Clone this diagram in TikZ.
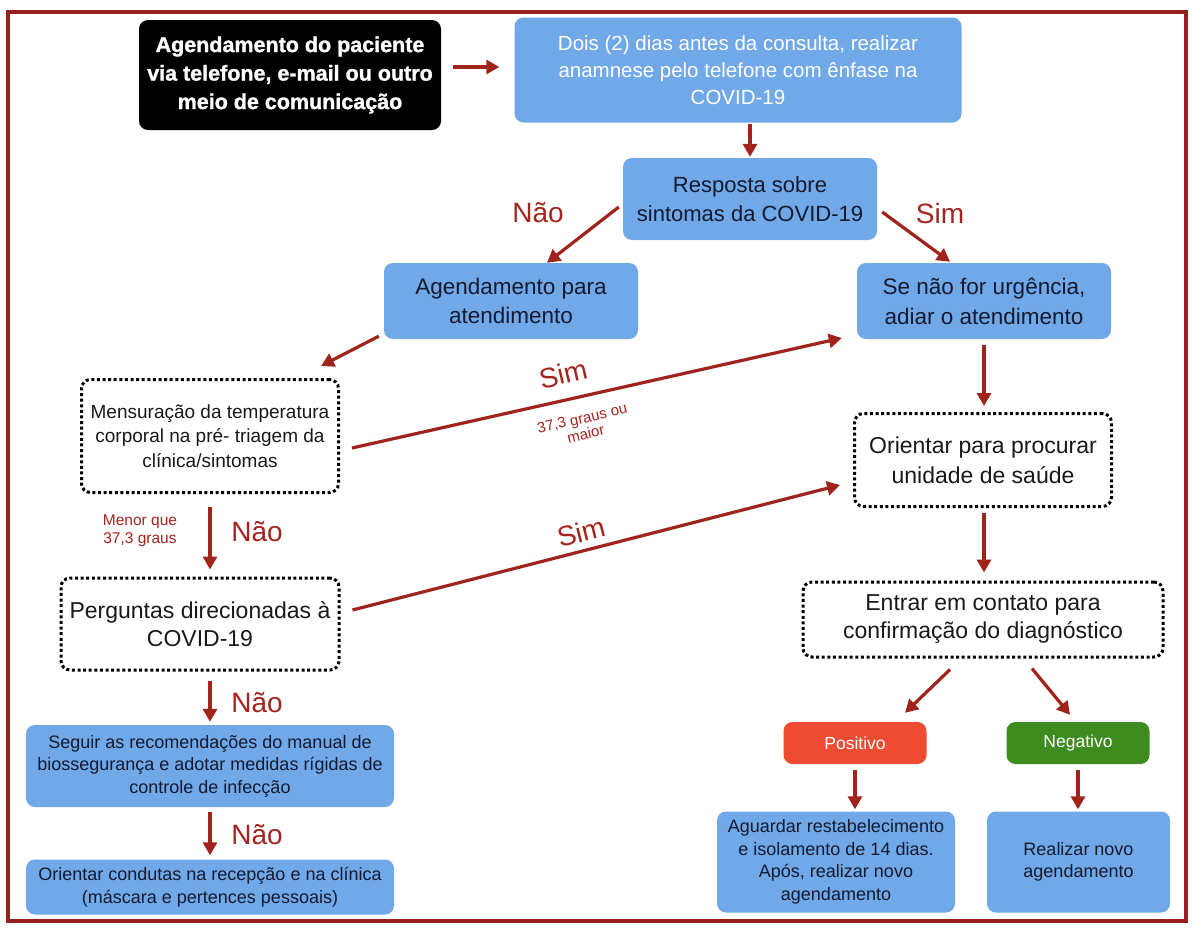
\documentclass[tikz,border=0pt]{standalone}
\usepackage{fontspec}
\setmainfont{Liberation Sans}
\newfontfamily\heavyfont{Liberation Sans}[BoldFeatures={FakeBold=1.3}]
\usetikzlibrary{arrows.meta,calc}
\definecolor{boxblue}{RGB}{112,168,232}
\definecolor{navy}{RGB}{20,26,48}
\definecolor{arrowred}{RGB}{160,36,28}
\definecolor{labelred}{RGB}{165,36,30}
\definecolor{borderred}{RGB}{150,32,30}
\definecolor{posred}{RGB}{238,76,50}
\definecolor{neggreen}{RGB}{62,140,32}
\tikzset{
  box/.style={rounded corners=9pt, inner sep=0pt, align=center, anchor=center},
  bluebox/.style={box, fill=boxblue, text=navy},
  dotbox/.style={box, draw=black, line width=3pt, dash pattern=on 3pt off 2.6pt, text=black!90},
  arr/.style={draw=arrowred, line width=3.2pt, -{Triangle[length=13pt,width=14pt]}},
  lbl/.style={text=labelred, inner sep=0pt, anchor=center, align=center},
  big/.style={font={\fontsize{28}{30}\selectfont}},
}
\begin{document}
\begin{tikzpicture}[x=1pt,y=-1pt]
\useasboundingbox (0,0) rectangle (1193,927);
\fill[white] (0,0) rectangle (1193,927);
\draw[borderred, line width=3.5pt] (8,12) rectangle (1186,921);

% nodes
\node[box, fill=black, text=white, minimum width=302pt, minimum height=110pt,
      font={\heavyfont\bfseries\fontsize{21.5}{28.5}\selectfont}] (black) at (290,75)
  {Agendamento do paciente\\via telefone, e-mail ou outro\\meio de comunicação};
\node[bluebox, text=white, minimum width=447pt, minimum height=105pt,
      font={\fontsize{20.5}{27}\selectfont}] (dois) at (738,70)
  {Dois (2) dias antes da consulta, realizar\\anamnese pelo telefone com ênfase na\\COVID-19};
\node[bluebox, minimum width=254pt, minimum height=82pt,
      font={\fontsize{22}{29}\selectfont}] (resp) at (750,199)
  {Resposta sobre\\sintomas da COVID-19};
\node[bluebox, minimum width=254pt, minimum height=76pt,
      font={\fontsize{22.5}{29}\selectfont}] (agend) at (511,301)
  {Agendamento para\\atendimento};
\node[bluebox, minimum width=254pt, minimum height=76pt,
      font={\fontsize{22.5}{30}\selectfont}] (senao) at (984,301)
  {Se não for urgência,\\adiar o atendimento};
\node[dotbox, minimum width=257pt, minimum height=113pt,
      font={\fontsize{19}{24.5}\selectfont}] (mens) at (210,436)
  {Mensuração da temperatura\\corporal na pré- triagem da\\clínica/sintomas};
\node[dotbox, minimum width=257pt, minimum height=93pt,
      font={\fontsize{23}{30}\selectfont}] (orient) at (983,460)
  {Orientar para procurar\\unidade de saúde};
\node[dotbox, minimum width=278pt, minimum height=92pt,
      font={\fontsize{23}{28}\selectfont}] (perg) at (200,624)
  {Perguntas direcionadas à\\COVID-19};
\node[bluebox, minimum width=368pt, minimum height=82pt,
      font={\fontsize{18}{22.5}\selectfont}] (seguir) at (210,766)
  {Seguir as recomendações do manual de\\biossegurança e adotar medidas rígidas de\\controle de infecção};
\node[bluebox, minimum width=368pt, minimum height=55pt,
      font={\fontsize{18}{23}\selectfont}] (orcond) at (210,887)
  {Orientar condutas na recepção e na clínica\\(máscara e pertences pessoais)};
\node[dotbox, minimum width=360pt, minimum height=75pt,
      font={\fontsize{23}{28}\selectfont}] (entrar) at (983,619.5)
  {Entrar em contato para\\confirmação do diagnóstico};
\node[box, fill=posred, text=white, minimum width=143pt, minimum height=42pt,
      font={\fontsize{17.5}{20}\selectfont}] (pos) at (855,743) {Positivo};
\node[box, fill=neggreen, text=white, minimum width=143pt, minimum height=42pt,
      font={\fontsize{17.5}{20}\selectfont}] (neg) at (1078,743) {Negativo};
\node[bluebox, minimum width=238pt, minimum height=101pt,
      font={\fontsize{18}{22.5}\selectfont}] (aguard) at (836,862)
  {Aguardar restabelecimento\\e isolamento de 14 dias.\\Após, realizar novo\\agendamento};
\node[bluebox, minimum width=183pt, minimum height=101pt,
      font={\fontsize{18}{22.5}\selectfont}] (realiz) at (1078.5,862)
  {Realizar novo\\agendamento};

% connectors
\draw[arr] ($(black.east)+(12,-8)$) -- ($(dois.west)+(-15,-3)$);
\draw[arr] ($(resp.north)+(0,-34)$) -- ($(resp.north)+(0,-1)$);
\draw[arr] ($(resp.west)+(-4,8)$) -- ($(agend.north)+(36,0)$);
\draw[arr] ($(resp.east)+(5,13)$) -- ($(senao.north)+(-34,-1)$);
\draw[arr] ($(agend.south west)+(-5,-3)$) -- ($(mens.north east)+(-19,-12)$);
\draw[arr] ($(mens.east)+(12,12)$) -- ($(senao.west)+(-15,37)$);
\draw[arr] ($(senao.south)+(0,6)$) -- ($(orient.north)+(1,-6)$);
\draw[arr] ($(mens.south)+(0,13)$) -- ($(perg.north)+(10,-7)$);
\draw[arr] ($(perg.east)+(12,-14)$) -- ($(orient.west)+(-13,25)$);
\draw[arr] ($(orient.south)+(1,5)$) -- ($(entrar.north)+(1,-8)$);
\draw[arr] ($(perg.south)+(10,9)$) -- ($(seguir.north)+(0,-3)$);
\draw[arr] ($(seguir.south)+(0,5)$) -- ($(orcond.north)+(0,-4)$);
\draw[arr] ($(entrar.south)+(-33,11)$) -- ($(pos.north)+(50,-9)$);
\draw[arr] ($(entrar.south)+(49,10)$) -- ($(neg.north)+(-8,-7)$);
\draw[arr] ($(pos.south)+(0,6)$) -- ($(pos.south |- aguard.north)+(0,-2)$);
\draw[arr] ($(neg.south)+(0,6)$) -- ($(neg.south |- realiz.north)+(0,-2)$);

% labels
\node[lbl, big] (l1) at (538,213) {Não};
\node[lbl, big] (l2) at (940,213) {Sim};
\node[lbl, big, rotate=13] (l3) at (563,374) {Sim};
\node[lbl, rotate=13, font={\fontsize{15}{16}\selectfont}] (l4) at (584,426) {37,3 graus ou\\maior};
\node[lbl, big, rotate=14] (l5) at (581,532) {Sim};
\node[lbl, font={\fontsize{15.5}{18.5}\selectfont}] (l6) at (140,531) {Menor que\\37,3 graus};
\node[lbl, big] (l7) at (257,532) {Não};
\node[lbl, big] (l8) at (257,703) {Não};
\node[lbl, big] (l9) at (257,835) {Não};
\end{tikzpicture}
\end{document}
